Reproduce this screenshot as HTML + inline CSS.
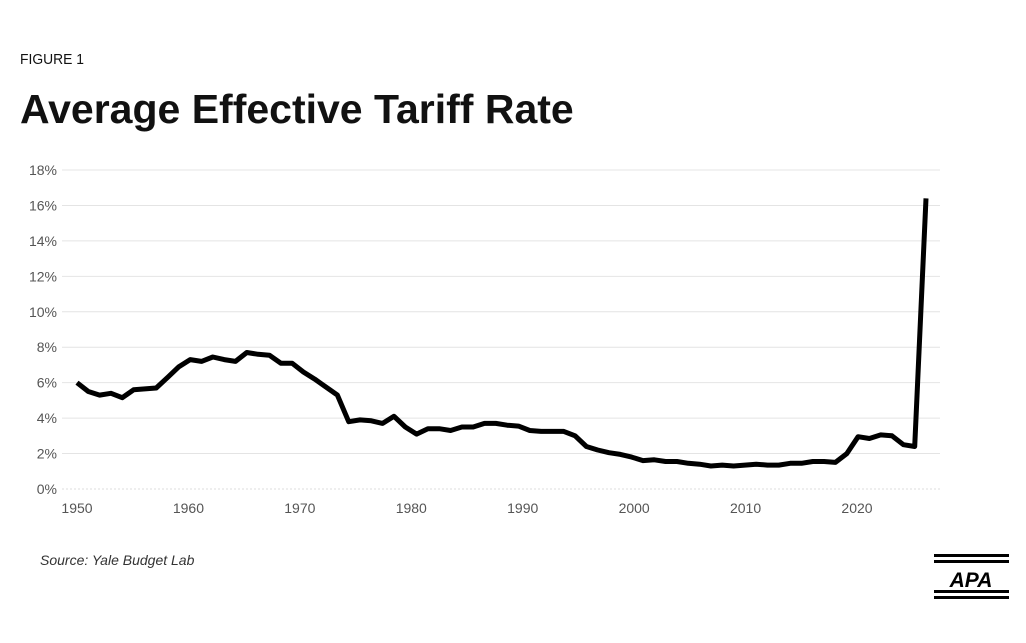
<!DOCTYPE html>
<html><head><meta charset="utf-8"><style>
body{margin:0;background:#fff;font-family:"Liberation Sans",sans-serif;}
svg{display:block}
</style></head><body>
<svg width="1026" height="643" viewBox="0 0 1026 643">
<text x="20" y="64" font-size="15" fill="#111" textLength="64" lengthAdjust="spacingAndGlyphs">FIGURE 1</text>
<text x="20" y="123" font-size="41" font-weight="bold" fill="#111">Average Effective Tariff Rate</text>
<g id="grid"></g><g id="yl"></g><g id="xl"></g>
<path id="line" fill="none" stroke="#000" stroke-width="5" stroke-linejoin="round"/>
<text x="40" y="565" font-size="14" font-style="italic" fill="#333">Source: Yale Budget Lab</text>
<g>
<rect x="934" y="554" width="75" height="3" fill="#000"/><rect x="934" y="560" width="75" height="3" fill="#000"/>
<text x="971" y="587" font-size="21" font-weight="bold" font-style="italic" text-anchor="middle" fill="#000">APA</text>
<rect x="934" y="590" width="75" height="3" fill="#000"/><rect x="934" y="596" width="75" height="3" fill="#000"/>
</g>
</svg>
<script>
const years=[];for(let y=1950;y<=2025;y++)years.push(y);
const rates=[6.0,5.5,5.3,5.4,5.15,5.6,5.65,5.7,6.3,6.9,7.3,7.2,7.45,7.3,7.2,7.7,7.6,7.55,7.1,7.1,6.6,6.2,5.75,5.3,3.8,3.9,3.85,3.7,4.1,3.5,3.1,3.4,3.4,3.3,3.5,3.5,3.7,3.7,3.6,3.55,3.3,3.25,3.25,3.25,3.0,2.4,2.2,2.05,1.95,1.8,1.6,1.65,1.55,1.55,1.45,1.4,1.3,1.35,1.3,1.35,1.4,1.35,1.35,1.45,1.45,1.55,1.55,1.5,2.0,2.95,2.85,3.05,3.0,2.5,2.4,16.4];
const yTicks=[0,2,4,6,8,10,12,14,16,18];
const xTicks=[1950,1960,1970,1980,1990,2000,2010,2020];
const X=y=>77+(y-1950)*(926-77)/75;
const XL=y=>77+(y-1950)*(857-77)/70;
const Y=v=>489-v*(489-170)/18;
const NS='http://www.w3.org/2000/svg';
function mk(t,a,p){const e=document.createElementNS(NS,t);for(const k in a)e.setAttribute(k,a[k]);p.appendChild(e);return e;}
const g=document.getElementById('grid'),yl=document.getElementById('yl'),xl=document.getElementById('xl');
yTicks.forEach(v=>{
 const l=mk('line',{x1:62,x2:940,y1:Y(v),y2:Y(v),stroke:v===0?'#ddd':'#e4e4e4','stroke-width':1,'stroke-dasharray':v===0?'2,2':''},g);
 
 
 const t=mk('text',{x:57,y:Y(v)+5,'font-size':14,'text-anchor':'end',fill:'#555'},yl);t.textContent=v+'%';
 
 
});
xTicks.forEach(v=>{
 const t=mk('text',{x:XL(v),y:513,'font-size':14,'text-anchor':'middle',fill:'#555'},xl);t.textContent=v;
 
 
});
document.getElementById('line').setAttribute('d',rates.map((v,i)=>(i?'L':'M')+X(years[i]).toFixed(1)+' '+Y(v).toFixed(1)).join(' '));
</script>
</body></html>
